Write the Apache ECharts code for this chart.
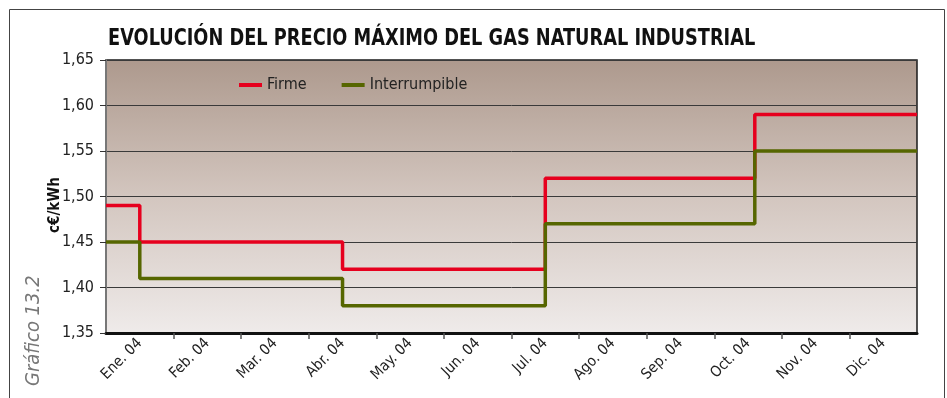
<!DOCTYPE html>
<html>
<head>
<meta charset="utf-8">
<script src="https://cdn.jsdelivr.net/npm/echarts@6/dist/echarts.min.js"></script>
<style>
  html, body { margin: 0; padding: 0; background: #fff; }
  #chart { width: 947px; height: 398px; }
</style>
</head>
<body>
<div id="chart"></div>
<script>
// Month labels for the 2004 x axis
const months = ['Ene. 04', 'Feb. 04', 'Mar. 04', 'Abr. 04', 'May. 04', 'Jun. 04',
                'Jul. 04', 'Ago. 04', 'Sep. 04', 'Oct. 04', 'Nov. 04', 'Dic. 04'];

// Start of each price period, in months from 1 January 2004
const periodStart = [0, 0.5, 3.5, 6.5, 9.6];
const periodEnd = 12;

// Maximum price in each period (c€/kWh)
const firme = [1.49, 1.45, 1.42, 1.52, 1.59];
const interrumpible = [1.45, 1.41, 1.38, 1.47, 1.55];

// Y axis tick labels
const yTicks = ['1,35', '1,40', '1,45', '1,50', '1,55', '1,60', '1,65'];

// Month boundaries that get a tick mark (inner ones only)
const monthBoundaries = months.slice(1).map((_, i) => i + 1);

// Turn period values into stepped [x, y] points
function steps(values) {
  const pts = periodStart.map((s, i) => [s, values[i]]);
  pts.push([periodEnd, values[values.length - 1]]);
  return pts;
}

const FONT = '"Liberation Sans Narrow", "DejaVu Sans Condensed", "Liberation Sans", sans-serif';

const chart = echarts.init(document.getElementById('chart'), null, { renderer: 'canvas' });

chart.setOption({
  animation: false,
  backgroundColor: '#ffffff',
  legend: {
    left: 234,
    top: 72,
    itemGap: 35,
    itemWidth: 23,
    itemHeight: 4,
    icon: 'rect',
    textStyle: { fontFamily: FONT, fontSize: 16, color: '#222' },
    data: ['Firme', 'Interrumpible']
  },
  grid: {
    left: 106,
    right: 30,
    top: 60,
    bottom: 65,
    show: true,
    borderColor: '#1a1a1a',
    borderWidth: 1.5,
    backgroundColor: new echarts.graphic.LinearGradient(0, 0, 0, 1, [
      { offset: 0, color: '#ad998d' },
      { offset: 0.5, color: '#d3c6bf' },
      { offset: 1, color: '#efebea' }
    ])
  },
  xAxis: [
    {
      type: 'category',
      data: months,
      boundaryGap: true,
      axisLine: { show: true, lineStyle: { color: '#111', width: 3 } },
      axisTick: { show: false },
      axisLabel: {
        rotate: 45,
        margin: 8,
        fontFamily: FONT,
        fontSize: 15,
        color: '#222'
      },
      splitLine: { show: false }
    },
    {
      type: 'value',
      min: 0,
      max: periodEnd,
      position: 'bottom',
      axisLine: { show: false },
      axisLabel: { show: false },
      splitLine: { show: false },
      axisTick: {
        show: true,
        length: 6,
        customValues: monthBoundaries,
        lineStyle: { color: '#555', width: 1.5 }
      }
    }
  ],
  yAxis: {
    type: 'value',
    min: 1.35,
    max: 1.65,
    interval: 0.05,
    axisLine: { show: true, lineStyle: { color: '#777', width: 2 } },
    axisTick: { show: true, length: 6, lineStyle: { color: '#333', width: 1 } },
    axisLabel: {
      margin: 12,
      fontFamily: FONT,
      fontSize: 16,
      color: '#222',
      formatter: (v) => yTicks[Math.round((v - 1.35) / 0.05)]
    },
    splitLine: { show: true, lineStyle: { color: '#3a3a3a', width: 1 } }
  },
  graphic: [
    {
      type: 'rect',
      shape: { x: 9.5, y: 9.5, width: 935, height: 400 },
      style: { fill: 'none', stroke: '#444', lineWidth: 1 },
      silent: true,
      z: -1
    },
    {
      // Chart title, condensed horizontally
      type: 'text',
      x: 108,
      y: 27,
      scaleX: 0.84,
      style: {
        text: 'EVOLUCIÓN DEL PRECIO MÁXIMO DEL GAS NATURAL INDUSTRIAL',
        fontFamily: FONT,
        fontWeight: 'bold',
        fontSize: 23.5,
        fill: '#111'
      },
      silent: true
    },
    {
      type: 'text',
      x: 48,
      y: 233,
      rotation: Math.PI / 2,
      style: {
        text: 'c€/kWh',
        fontFamily: FONT,
        fontWeight: 'bold',
        fontSize: 15,
        fill: '#111'
      },
      silent: true
    },
    {
      type: 'text',
      x: 24,
      y: 386,
      rotation: Math.PI / 2,
      style: {
        text: 'Gráfico 13.2',
        fontFamily: FONT,
        fontStyle: 'italic',
        fontSize: 20,
        fill: '#777'
      },
      silent: true
    }
  ],
  series: [
    {
      name: 'Firme',
      type: 'line',
      xAxisIndex: 1,
      step: 'end',
      showSymbol: false,
      data: steps(firme),
      lineStyle: { color: '#e6001e', width: 3.5 },
      itemStyle: { color: '#e6001e' },
      z: 3
    },
    {
      name: 'Interrumpible',
      type: 'line',
      xAxisIndex: 1,
      step: 'end',
      showSymbol: false,
      data: steps(interrumpible),
      lineStyle: { color: '#566600', width: 3.5 },
      itemStyle: { color: '#566600' },
      z: 4
    }
  ]
});
</script>
</body>
</html>
